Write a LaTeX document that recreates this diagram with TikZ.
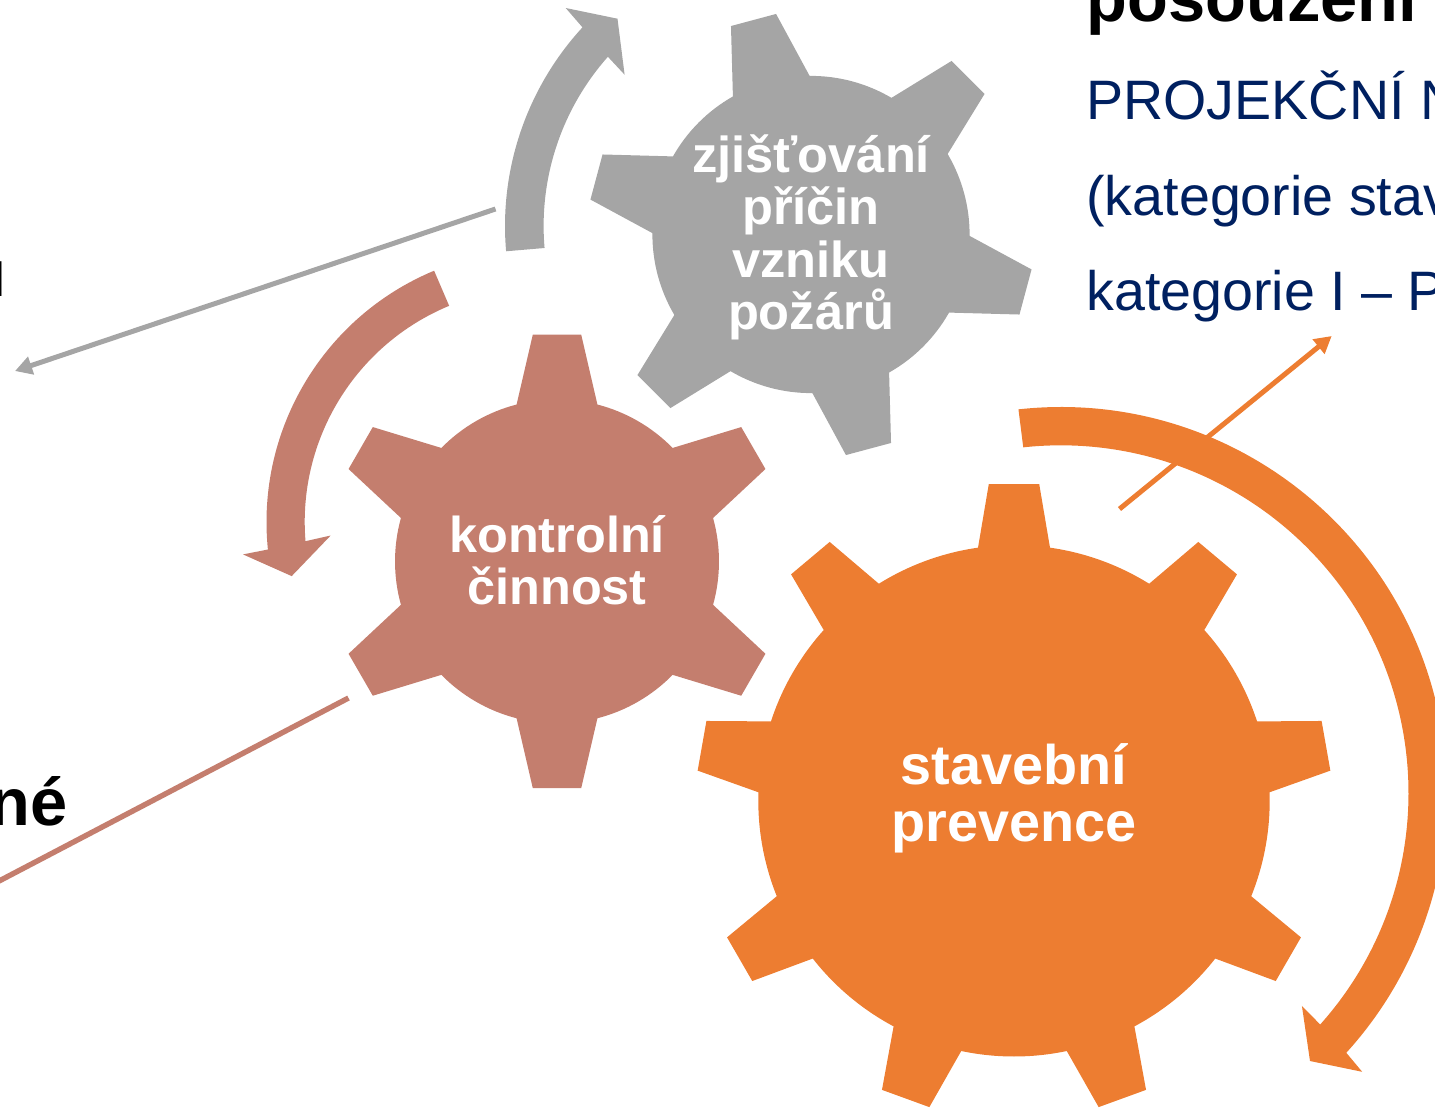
\documentclass[tikz,border=0pt]{standalone}
\usepackage{fontspec}
\setmainfont{Liberation Sans}
\usetikzlibrary{arrows.meta}
\definecolor{gearGray}{HTML}{A5A5A5}
\definecolor{gearPink}{HTML}{C47E6E}
\definecolor{gearOrange}{HTML}{ED7D31}
\definecolor{textBlue}{HTML}{002060}
\tikzset{
  geartext/.style 2 args={text=white,align=center,inner sep=0pt,font=\bfseries\fontsize{#1}{#2}\selectfont},
  bodytext/.style={text=textBlue,anchor=base west,inner sep=0pt,font=\fontsize{27.8}{30}\selectfont},
  headtext/.style={text=black,inner sep=0pt,font=\bfseries\fontsize{33.4}{36}\selectfont},
  linkarrow/.style={line width=2.5pt,-{Triangle[length=8.5pt,width=9pt]}},
  linkplain/.style={line width=2.7pt}
}
% colour, cx, cy, r, R, alpha, beta, start angle, teeth
\newcommand{\gearshape}[9]{%
  \begin{scope}[shift={(#2,#3)}]
    \pgfmathsetmacro{\gstep}{360/#9}
    \fill[#1] ({#8-#6}:#4)
      \foreach [evaluate=\k as \gt using #8+(\k-1)*\gstep] \k in {1,...,#9}{
        -- ({\gt-#7}:#5) -- ({\gt+#7}:#5) -- ({\gt+#6}:#4)
        arc[start angle={\gt+#6},end angle={\gt+\gstep-#6},radius=#4]
      } -- cycle;
  \end{scope}}
\begin{document}
\begin{tikzpicture}[x=0.5pt,y=-0.5pt]
\useasboundingbox (0,0) rectangle (1435,1108);
\clip (0,0) rectangle (1435,1108);
\gearshape{gearGray}{811}{234.5}{158.6}{223.3}{14.5}{6}{255}{6}
\gearshape{gearPink}{557}{561.4}{162}{228}{14.45}{6.1}{270}{6}
\gearshape{gearOrange}{1014}{800.8}{255.7}{317.8}{8.09}{4.55}{270}{9}

% curved arrows
\begin{scope}[shift={(798.5,226)}]
\fill[gearGray] (175.06:293.5) arc[start angle=175.06,end angle=222.6,radius=293.5]
  -- (565.7-798.5,8-226) -- (617.5-798.5,18.7-226) -- (624.6-798.5,74.7-226)
  -- (221.6:254.9) arc[start angle=221.6,end angle=175.05,radius=254.9] -- cycle;
\end{scope}
\begin{scope}[shift={(538.7,522)}]
\fill[gearPink] (247.4:272.2) arc[start angle=247.4,end angle=174.2,radius=272.2]
  -- (243-538.7,554.4-522) -- (291.7-538.7,576.1-522) -- (330.7-538.7,535.5-522)
  -- (175.3:234) arc[start angle=175.3,end angle=247.5,radius=234] -- cycle;
\end{scope}
\begin{scope}[shift={(1060.8,793)}]
\fill[gearOrange] (-96.3:386) arc[start angle=-96.3,end angle=42.3,radius=386]
  -- (1362.2-1060.8,1071.8-793) -- (1310-1060.8,1061-793) -- (1301.9-1060.8,1005.9-793)
  -- (41.75:347.7) arc[start angle=41.75,end angle=-96.2,radius=347.7] -- cycle;
\end{scope}

% straight connectors
\coordinate (grayA) at (495.5,209);
\coordinate (grayB) at (15,371);
\coordinate (pinkA) at (348.5,698);
\coordinate (pinkB) at (-20,891);
\coordinate (orangeA) at (1119.5,509);
\coordinate (orangeB) at (1331.7,336);
\draw[linkarrow,draw=gearGray,fill=gearGray] (grayA) -- (grayB);
\draw[linkplain,draw=gearPink] (pinkA) -- (pinkB);
\draw[linkarrow,draw=gearOrange,fill=gearOrange] (orangeA) -- (orangeB);

% gear labels
\node[geartext={25.3}{26.2}] (lblGray) at (811,237.5) {zjišťování\\příčin\\vzniku\\požárů};
\node[geartext={25.2}{26}] (lblPink) at (557,560.5) {kontrolní\\činnost};
\node[geartext={27.9}{28.7}] (lblOrange) at (1014,798.5) {stavební\\prevence};

% clipped texts
\node[headtext,anchor=base west] (txtHead) at (1086.5,21) {posouzení};
\node[headtext,anchor=base east] (txtNe) at (68,825) {né};
\node[bodytext] (txtA) at (1086,119) {PROJEKČNÍ N};
\node[bodytext] (txtB) at (1086,215) {(kategorie stav};
\node[bodytext] (txtC) at (1086,310) {kategorie I – P};
\node[text=black,anchor=base east,inner sep=0pt,font=\fontsize{24}{26}\selectfont] (txtL) at (5.9,296) {l};
\end{tikzpicture}
\end{document}
